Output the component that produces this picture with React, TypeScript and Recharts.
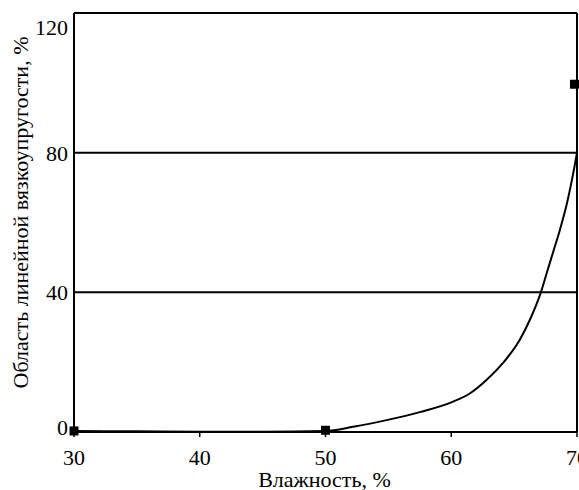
import React from 'react';
import { ComposedChart, Line, Scatter, XAxis, YAxis, ReferenceLine, Label } from 'recharts';

const curveX = [30, 35, 40, 45, 50, 52.2, 54.85, 57.5, 60.15, 61.5, 62.8, 64.1, 65.45, 66.3, 67.1, 67.6, 68.1, 68.65, 69.2, 69.5, 69.8, 70];
const curveY = [0.3, 0.2, 0.1, 0.1, 0.3, 1.5, 3.4, 5.7, 8.7, 11.1, 14.9, 19.7, 26.4, 32.5, 39.7, 45.6, 51.5, 58, 65.5, 70.5, 76, 80];
const pointX = [30, 50, 69.8];
const pointY = [0.3, 0.5, 99.6];
const xTicks = [30, 40, 50, 60, 70];
const yTicks = [0, 40, 80, 120];

const curveData = curveX.map((x, i) => ({ x, y: curveY[i] }));
const pointData = pointX.map((x, i) => ({ x, y: pointY[i] }));

const FONT = '"Liberation Serif", "Times New Roman", serif';

const SquareShape = (props: any) => {
  const { cx, cy } = props;
  if (cx == null || cy == null) return null;
  return <rect x={cx - 4.5} y={cy - 4.5} width={9} height={9} fill="#000" />;
};

const YTick = (props: any) => {
  const { x, y, payload } = props;
  let dy = 8;
  if (payload.value === 120) dy = 22;
  if (payload.value === 0) dy = 3;
  return (
    <text x={x} y={y + dy} textAnchor="end" fontFamily={FONT} fontSize={22} fill="#000">
      {payload.value}
    </text>
  );
};

const XTick = (props: any) => {
  const { x, y, payload } = props;
  return (
    <text x={x} y={y + 26} textAnchor="middle" fontFamily={FONT} fontSize={22} fill="#000">
      {payload.value}
    </text>
  );
};

const YLabel = (props: any) => {
  const { viewBox } = props;
  const cx = viewBox.x + 20;
  const cy = viewBox.y + viewBox.height / 2 - 10;
  return (
    <text
      x={cx}
      y={cy}
      transform={`rotate(-90, ${cx}, ${cy})`}
      textAnchor="middle"
      dominantBaseline="central"
      fontFamily={FONT}
      fontSize={22}
      fill="#000"
    >
      Область линейной вязкоупругости, %
    </text>
  );
};

const XLabel = (props: any) => {
  const { viewBox } = props;
  const cx = viewBox.x + viewBox.width / 2 - 1;
  const cy = viewBox.y + 55;
  return (
    <text x={cx} y={cy} textAnchor="middle" fontFamily={FONT} fontSize={22} fill="#000">
      Влажность, %
    </text>
  );
};

export default function App() {
  return (
    <div style={{ position: 'absolute', left: 0, top: 0, background: '#fff' }}>
      <ComposedChart width={579} height={490} margin={{ top: 13, right: 2, bottom: 0, left: 0 }}>
        <XAxis
          type="number"
          dataKey="x"
          domain={[30, 70]}
          ticks={xTicks}
          interval={0}
          height={58}
          axisLine={{ stroke: '#000', strokeWidth: 2 }}
          tickLine={{ stroke: '#000', strokeWidth: 1.5 }}
          tickSize={5}
          tick={<XTick />}
        >
          <Label content={<XLabel />} />
        </XAxis>
        <YAxis
          type="number"
          dataKey="y"
          domain={[0, 120]}
          ticks={yTicks}
          interval={0}
          width={74}
          axisLine={{ stroke: '#000', strokeWidth: 2 }}
          tickLine={false}
          tickSize={6}
          tickMargin={0}
          tick={<YTick />}
        >
          <Label content={<YLabel />} />
        </YAxis>
        <ReferenceLine y={40} stroke="#000" strokeWidth={2} />
        <ReferenceLine y={80} stroke="#000" strokeWidth={2} />
        <ReferenceLine y={120} stroke="#000" strokeWidth={2} />
        <ReferenceLine x={70} stroke="#000" strokeWidth={2} />
        <Line
          data={curveData}
          dataKey="y"
          type="monotone"
          stroke="#000"
          strokeWidth={2}
          dot={false}
          isAnimationActive={false}
        />
        <Scatter data={pointData} dataKey="y" fill="#000" shape={<SquareShape />} isAnimationActive={false} />
      </ComposedChart>
    </div>
  );
}
